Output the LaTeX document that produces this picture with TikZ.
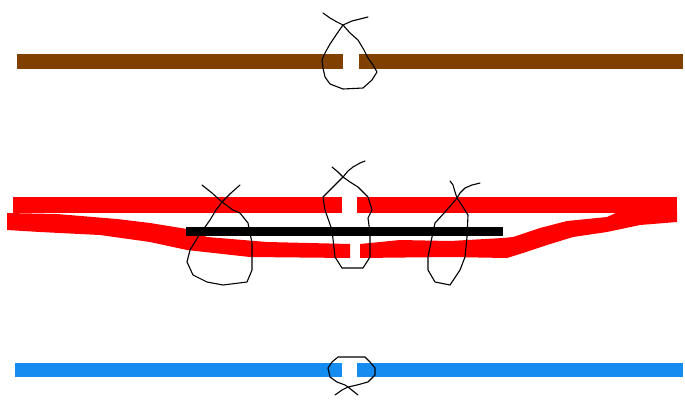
\documentclass[tikz,border=0pt]{standalone}
\definecolor{ropebrown}{RGB}{128,64,0}
\definecolor{ropeblue}{RGB}{20,140,240}
\definecolor{ropered}{RGB}{255,0,0}
\tikzset{
  knotline/.style={draw=black, line width=1.1pt, line join=round, line cap=round},
}
\begin{document}
\begin{tikzpicture}[x=1pt,y=-1pt]
\useasboundingbox (0,0) rectangle (685,399);
\fill[white] (0,0) rectangle (685,399);

% brown rope
\fill[ropebrown] (17,54) rectangle (343,69);
\fill[ropebrown] (359,54) rectangle (683,69);

% red rope: top strand
\fill[ropered] (13,197) rectangle (342,213);
\fill[ropered] (357,197) rectangle (677,213);
% red rope: lower strand
\fill[ropered] (7,213) -- (57,214) -- (117,219) -- (150,223) -- (187,229) -- (207,237)
  -- (267,242) -- (350,244) -- (350,258) -- (250,257) -- (187,250) -- (150,242)
  -- (100,235) -- (40,232) -- (7,230) -- cycle;
\fill[ropered] (360,244) -- (400,240) -- (450,241) -- (503,238) -- (513,237)
  -- (540,228) -- (567,221) -- (607,217) -- (618,212) -- (677,212) -- (677,222)
  -- (640,225) -- (607,232) -- (573,237) -- (547,245) -- (523,253) -- (507,258)
  -- (450,257) -- (360,258) -- cycle;
% black core
\fill[black] (186,227) rectangle (503,236);

% blue rope
\fill[ropeblue] (15,363) rectangle (342,377);
\fill[ropeblue] (357,363) rectangle (683,377);

% knot on brown rope
\draw[knotline] (323,13) -- (330,18) -- (337,22) -- (343,25) -- (350,33) -- (358,40)
  -- (364,50) -- (368,58) -- (373,65) -- (377,72) -- (372,80) -- (363,88)
  -- (343,89) -- (330,84) -- (325,77) -- (323,68) -- (322,60) -- (325,53)
  -- (330,44) -- (336,35) -- (343,25) -- (352,21) -- (360,19) -- (368,17);

% left knot on red rope
\draw[knotline] (202,185) -- (212,193) -- (222,202) -- (233,210) -- (240,213)
  -- (248,223) -- (252,243) -- (252,270) -- (247,282) -- (223,285) -- (207,282)
  -- (193,275) -- (187,262) -- (190,250) -- (198,237) -- (210,220) -- (216,210)
  -- (222,202) -- (231,193) -- (240,185);

% middle knot on red rope
\draw[knotline] (332,167) -- (338,172) -- (343,177) -- (350,182) -- (358,187)
  -- (368,197) -- (372,210) -- (368,218) -- (370,233) -- (370,257) -- (363,268)
  -- (342,268) -- (335,257) -- (332,230) -- (325,210) -- (323,197) -- (330,190)
  -- (337,183) -- (343,177) -- (348,171) -- (353,167) -- (360,163) -- (365,161);

% right knot on red rope
\draw[knotline] (450,181) -- (453,185) -- (455,192) -- (457,198) -- (463,207)
  -- (468,215) -- (467,237) -- (465,257) -- (460,270) -- (450,285) -- (435,282)
  -- (428,270) -- (428,257) -- (432,237) -- (435,223) -- (445,212) -- (452,204)
  -- (457,198) -- (460,193) -- (465,188) -- (472,185) -- (480,183);

% knot on blue rope
\draw[knotline] (335,395) -- (342,390) -- (348,387) -- (357,385) -- (368,382)
  -- (375,375) -- (375,368) -- (370,362) -- (365,357) -- (338,357) -- (332,362)
  -- (328,368) -- (330,377) -- (337,382) -- (345,385) -- (348,387) -- (353,391)
  -- (358,395);
\end{tikzpicture}
\end{document}
